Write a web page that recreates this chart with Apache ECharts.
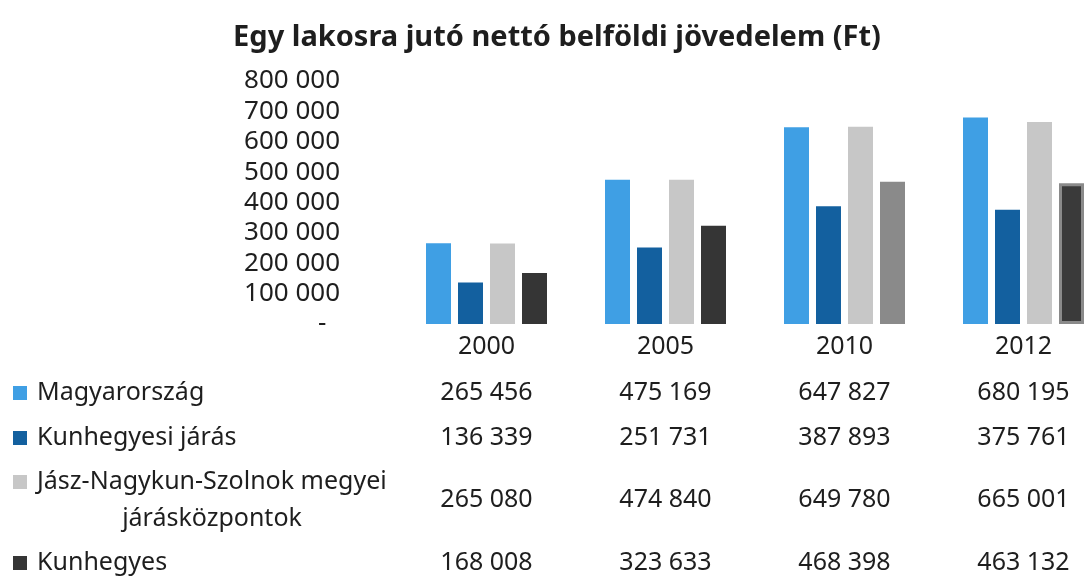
<!DOCTYPE html>
<html>
<head>
<meta charset="utf-8">
<script src="https://cdn.jsdelivr.net/npm/echarts@6/dist/echarts.min.js"></script>
<style>
  html, body { margin: 0; padding: 0; background: #fff; overflow: hidden; }
  #chart { width: 1120px; height: 577px; }
</style>
</head>
<body>
<div id="chart"></div>
<script>
const years = ['2000', '2005', '2010', '2012']
const seriesNames = ['Magyarország', 'Kunhegyesi járás', 'Jász-Nagykun-Szolnok megyei\njárásközpontok', 'Kunhegyes']
const magyarorszag = [265456, 475169, 647827, 680195]
const kunhegyesiJaras = [136339, 251731, 387893, 375761]
const jnszKozpontok = [265080, 474840, 649780, 665001]
const kunhegyes = [168008, 323633, 468398, 463132]
const yTicks = [0, 100000, 200000, 300000, 400000, 500000, 600000, 700000, 800000]

const colors = ['#3f9fe4', '#13609f', '#c7c7c7', '#353535']
const font = 'Noto Sans'
const textColor = '#1e1e1e'

function fmt(v) {
  if (v === 0) return '-'
  return String(v).replace(/\B(?=(\d{3})+(?!\d))/g, ' ')
}

const chart = echarts.init(document.getElementById('chart'))

const allSeries = [magyarorszag, kunhegyesiJaras, jnszKozpontok, kunhegyes]

chart.setOption({
  animation: false,
  title: {
    text: 'Egy lakosra jutó nettó belföldi jövedelem (Ft)',
    left: 552,
    top: 18,
    textAlign: 'center',
    textStyle: { fontFamily: font, fontSize: 29, fontWeight: 'bold', color: textColor }
  },
  grid: { left: 397, width: 716, top: 81, bottom: 253 },
  xAxis: {
    type: 'category',
    data: years,
    axisLine: { show: false },
    axisTick: { show: false },
    axisLabel: { fontFamily: font, fontSize: 25, color: textColor, margin: 10 }
  },
  yAxis: {
    type: 'value',
    min: yTicks[0],
    max: yTicks[yTicks.length - 1],
    interval: 100000,
    splitLine: { show: false },
    axisLine: { show: false },
    axisTick: { show: false },
    axisLabel: {
      fontFamily: font, fontSize: 26, color: textColor, margin: 57,
      // excel accounting style: zero shown as a dash, a bit indented
      formatter: v => v === 0 ? '-  ' : fmt(v)
    }
  },
  series: allSeries.map((d, i) => ({
    name: seriesNames[i],
    type: 'bar',
    barWidth: 25,
    barGap: '28%',
    itemStyle: { color: colors[i] },
    data: d.map((v, j) => {
      // the scanned original shows the last series with odd shading in 2010 / 2012
      if (i === 3 && j === 2) return { value: v, itemStyle: { color: '#8a8a8a' } }
      if (i === 3 && j === 3) return { value: v, itemStyle: { color: '#3a3a3a', borderColor: '#8a8a8a', borderWidth: 3 } }
      return v
    })
  }))
})

// data table under the chart
const rowY = [393, 438, 500, 563]
const tableFont = '25px "' + font + '"'
const graphics = []
seriesNames.forEach((name, i) => {
  const lines = name.split('\n')
  const y0 = rowY[i] - (lines.length > 1 ? 18 : 0)
  graphics.push({
    type: 'rect',
    shape: { x: 13, y: y0 - 7, width: 14, height: 14 },
    style: { fill: colors[i] }
  })
  graphics.push({
    type: 'text',
    x: 37,
    y: y0,
    style: { text: lines[0], font: tableFont, fill: textColor, verticalAlign: 'middle' }
  })
  if (lines.length > 1) {
    // second line sits centred under the first one
    graphics.push({
      type: 'text',
      x: 212,
      y: rowY[i] + 19,
      style: { text: lines[1], font: tableFont, fill: textColor, align: 'center', verticalAlign: 'middle' }
    })
  }
  years.forEach((yr, j) => {
    const px = chart.convertToPixel({ xAxisIndex: 0 }, yr)
    graphics.push({
      type: 'text',
      x: px,
      y: rowY[i],
      style: { text: fmt(allSeries[i][j]), font: tableFont, fill: textColor, align: 'center', verticalAlign: 'middle' }
    })
  })
})
chart.setOption({ graphic: graphics })
</script>
</body>
</html>
